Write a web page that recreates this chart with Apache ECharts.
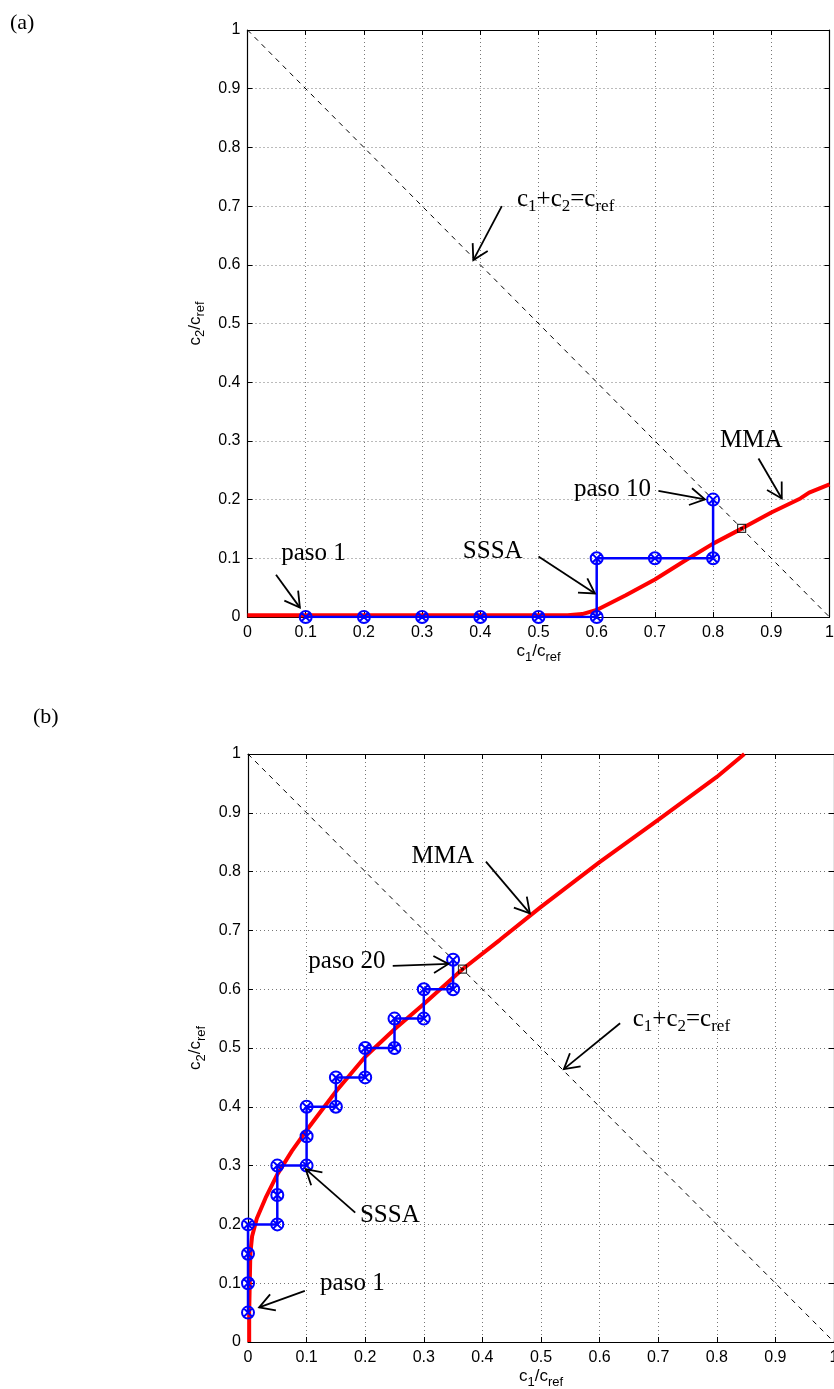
<!DOCTYPE html>
<html><head><meta charset="utf-8">
<script src="https://cdn.jsdelivr.net/npm/echarts@6/dist/echarts.min.js"></script>
<style>html,body{margin:0;padding:0;background:#fff}#c{width:834px;height:1389px}</style>
</head><body><div id="c"></div><script>
// ---- data ----
const tickLabels = ['0','0.1','0.2','0.3','0.4','0.5','0.6','0.7','0.8','0.9','1'];
const diagonal = [[0,1],[1,0]];
// panel (a)
const sssaA = [[0.1,0],[0.2,0],[0.3,0],[0.4,0],[0.5,0],[0.6,0],[0.6,0.1],[0.7,0.1],[0.8,0.1],[0.8,0.2]];
const mmaA = [[0,0.003],[0.3,0.003],[0.55,0.003],[0.575,0.005],[0.6,0.012],[0.65,0.037],[0.7,0.064],[0.75,0.095],[0.8,0.125],[0.85,0.151],[0.9,0.178],[0.95,0.202],[0.965,0.212],[1.0,0.226]];
const meetA = [[0.849,0.151]];
// panel (b)
const sssaB = [[0,0.05],[0,0.1],[0,0.15],[0,0.2],[0.05,0.2],[0.05,0.25],[0.05,0.3],[0.1,0.3],[0.1,0.35],[0.1,0.4],[0.15,0.4],[0.15,0.45],[0.2,0.45],[0.2,0.5],[0.25,0.5],[0.25,0.55],[0.3,0.55],[0.3,0.6],[0.35,0.6],[0.35,0.65]];
const mmaB = [[0.002,0],[0.002,0.05],[0.003,0.1],[0.004,0.15],[0.007,0.18],[0.015,0.21],[0.03,0.245],[0.05,0.285],[0.075,0.325],[0.1,0.36],[0.15,0.426],[0.2,0.485],[0.25,0.532],[0.3,0.575],[0.366,0.634],[0.43,0.684],[0.5,0.74],[0.6,0.816],[0.7,0.888],[0.8,0.961],[0.847,1.0]];
const meetB = [[0.366,0.634]];

// annotations: text anchor (left, middle), arrow tail, arrow tip (data coords)
const SUM = '{m|c}{s|1}{m|+c}{s|2}{m|=c}{s|ref}';
const annotationsA = [
  {text: SUM, at:[0.463,0.712], tail:[0.437,0.700], tip:[0.388,0.608]},
  {text: 'MMA', at:[0.812,0.301], tail:[0.878,0.270], tip:[0.918,0.202]},
  {text: 'paso 10', at:[0.561,0.218], tail:[0.706,0.215], tip:[0.786,0.2005]},
  {text: 'SSSA', at:[0.370,0.112], tail:[0.500,0.103], tip:[0.597,0.040]},
  {text: 'paso 1', at:[0.058,0.109], tail:[0.049,0.072], tip:[0.090,0.016]}
];
const annotationsB = [
  {text: 'MMA', at:[0.279,0.826], tail:[0.406,0.817], tip:[0.481,0.729]},
  {text: 'paso 20', at:[0.103,0.648], tail:[0.247,0.6395], tip:[0.342,0.643]},
  {text: SUM, at:[0.6565,0.549], tail:[0.635,0.542], tip:[0.539,0.464]},
  {text: 'SSSA', at:[0.191,0.216], tail:[0.183,0.220], tip:[0.0985,0.294]},
  {text: 'paso 1', at:[0.123,0.100], tail:[0.097,0.087], tip:[0.019,0.059]}
];

// ---- styling ----
const SANS = 'Liberation Sans, Arial, sans-serif';
const SERIF = 'Liberation Serif, Times New Roman, serif';
const BLUE = '#0000ff', RED = '#ff0000';
const markerPath = 'path://M10,0 A10,10 0 1,1 10,20 A10,10 0 1,1 10,0 Z M3,3 L17,17 M17,3 L3,17';
const meetPath = 'path://M0,0 L10,0 L10,10 L0,10 Z M4,4 L6,4 L6,6 L4,6 Z';

const nameRich = {
  m:{fontSize:17, fontFamily:SANS, color:'#000', lineHeight:17, verticalAlign:'top'},
  s:{fontSize:13, fontFamily:SANS, color:'#000', lineHeight:13, padding:[8,0,0,0], verticalAlign:'top'}
};
const lbl = v => tickLabels[Math.round(v*10)];
const line = {show:true, onZero:false, lineStyle:{color:'#000', width:1.2}};
const tick = {show:true, inside:true, length:5, lineStyle:{color:'#000', width:1}};
const split = {show:true, lineStyle:{color:'#777', width:1, type:[1,3]}};

function xAxes(g){
  return [
    {type:'value', gridIndex:g, min:0, max:1, interval:0.1, position:'bottom',
     axisLine:line, axisTick:tick, splitLine:split,
     axisLabel:{formatter:lbl, fontSize:16, fontFamily:SANS, color:'#000', margin:8},
     name:'{m|c}{s|1}{m|/c}{s|ref}', nameLocation:'middle', nameGap:26,
     nameTextStyle:{rich:nameRich}},
    {type:'value', gridIndex:g, min:0, max:1, interval:0.1, position:'top',
     axisLine:line, axisTick:tick, splitLine:{show:false}, axisLabel:{show:false}}
  ];
}
function yAxes(g){
  return [
    {type:'value', gridIndex:g, min:0, max:1, interval:0.1, position:'left',
     axisLine:line, axisTick:tick, splitLine:split,
     axisLabel:{formatter:lbl, fontSize:16, fontFamily:SANS, color:'#000', margin:7},
     name:'{m|c}{s|2}{m|/c}{s|ref}', nameLocation:'middle', nameGap:35, nameRotate:90,
     nameTextStyle:{rich:nameRich}},
    {type:'value', gridIndex:g, min:0, max:1, interval:0.1, position:'right',
     axisLine:line, axisTick:tick, splitLine:{show:false}, axisLabel:{show:false}}
  ];
}
function seriesFor(ax, sssa, mma, meet){
  return [
    {type:'line', xAxisIndex:ax, yAxisIndex:ax, data:diagonal, symbol:'none', z:2,
     lineStyle:{color:'#000', width:1, type:[5,5]}},
    {type:'line', xAxisIndex:ax, yAxisIndex:ax, data:mma, symbol:'none', z:3,
     lineStyle:{color:RED, width:4}, itemStyle:{color:RED}},
    {type:'line', xAxisIndex:ax, yAxisIndex:ax, data:sssa, symbol:markerPath, symbolSize:12,
     showSymbol:true, z:4,
     lineStyle:{color:BLUE, width:2.5},
     itemStyle:{color:'rgba(0,0,0,0)', borderColor:BLUE, borderWidth:2}},
    {type:'scatter', xAxisIndex:ax, yAxisIndex:ax, data:meet, symbol:meetPath, symbolSize:8, z:5,
     itemStyle:{color:'rgba(0,0,0,0)', borderColor:'#000', borderWidth:1.2}}
  ];
}

const chart = echarts.init(document.getElementById('c'), null, {renderer:'canvas'});
chart.setOption({
  animation:false,
  backgroundColor:'#fff',
  grid:[
    {left:247.5, top:30, width:582, height:587, containLabel:false, outerBoundsMode:'none'},
    {left:248, top:754, width:586, height:588, containLabel:false, outerBoundsMode:'none'}
  ],
  xAxis:[...xAxes(0), ...xAxes(1)],
  yAxis:[...yAxes(0), ...yAxes(1)],
  series:[...seriesFor(0, sssaA, mmaA, meetA), ...seriesFor(2, sssaB, mmaB, meetB)]
});

// ---- annotations placed through the axes ----
const annRich = {
  m:{fontSize:25, fontFamily:SERIF, fill:'#000', lineHeight:25, verticalAlign:'top'},
  s:{fontSize:17, fontFamily:SERIF, fill:'#000', lineHeight:17, padding:[11,0,0,0], verticalAlign:'top'}
};
function toPx(ax, p){ return chart.convertToPixel({xAxisIndex:ax, yAxisIndex:ax}, p); }
function buildAnn(ax, list){
  const out = [];
  list.forEach(a => {
    const t = toPx(ax, a.at), s = toPx(ax, a.tail), e = toPx(ax, a.tip);
    out.push({type:'text', x:t[0], y:t[1], z:100,
      style:{text:a.text, fontSize:25, fontFamily:SERIF, fill:'#000', align:'left', verticalAlign:'middle', rich:annRich}});
    const ang = Math.atan2(e[1]-s[1], e[0]-s[0]);
    const L = 17, w = Math.PI/6;
    const w1 = [e[0]-L*Math.cos(ang-w), e[1]-L*Math.sin(ang-w)];
    const w2 = [e[0]-L*Math.cos(ang+w), e[1]-L*Math.sin(ang+w)];
    out.push({type:'line', z:100, shape:{x1:s[0], y1:s[1], x2:e[0], y2:e[1]}, style:{stroke:'#000', lineWidth:1.8}});
    out.push({type:'polyline', z:100, shape:{points:[w1, e, w2]}, style:{stroke:'#000', lineWidth:1.8, fill:null}});
  });
  return out;
}
const graphics = [
  ...buildAnn(0, annotationsA), ...buildAnn(2, annotationsB),
  {type:'text', left:10, top:12, z:100, style:{text:'(a)', fontSize:22, fontFamily:SERIF, fill:'#000'}},
  {type:'text', left:33, top:706, z:100, style:{text:'(b)', fontSize:22, fontFamily:SERIF, fill:'#000'}}
];
chart.setOption({graphic:graphics});
</script></body></html>
